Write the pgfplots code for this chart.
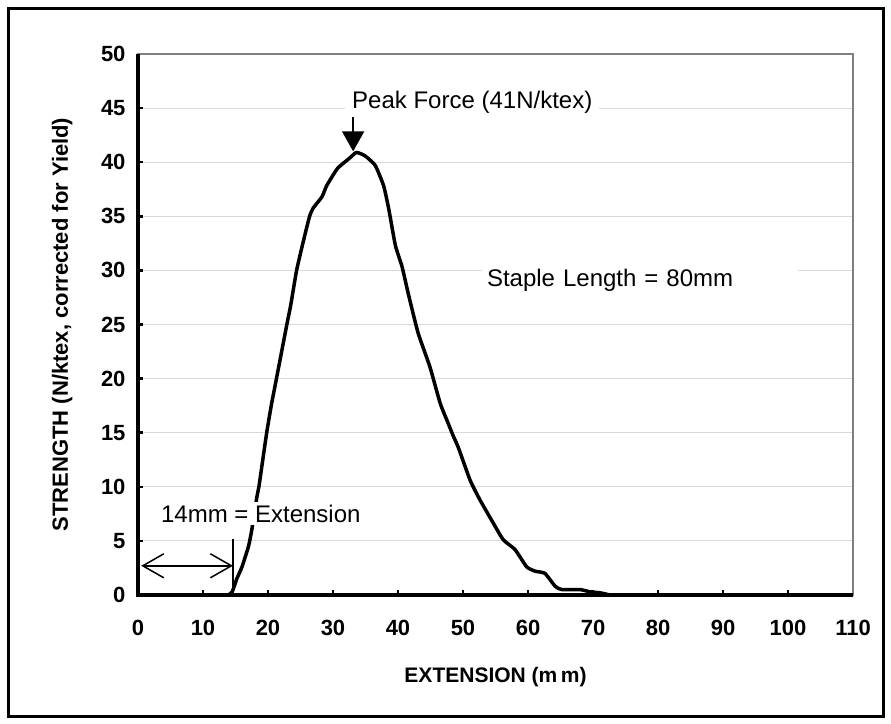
\documentclass[border=0pt]{standalone}
\usepackage{fontspec}
\setmainfont{Liberation Sans}
\usepackage{pgfplots}
\pgfplotsset{compat=1.18}
\usetikzlibrary{arrows.meta}

\pgfplotstableread{
x     y
13.9  0
14.5  0.3
15.2  1.5
16.0  2.6
17.0  4.5
17.5  6.0
18.3  9.1
18.6  10.0
19.2  12.5
19.8  15.0
20.5  17.5
21.3  20.0
22.1  22.5
22.9  25.0
23.5  26.8
24.4  30.0
25.4  32.6
26.4  35.0
27.0  35.8
28.3  36.8
29.0  37.8
30.0  38.8
30.8  39.5
32.6  40.4
33.6  40.9
34.9  40.6
36.5  39.7
37.8  37.8
38.6  35.6
39.6  32.3
40.6  30.4
41.6  27.8
43.1  24.2
44.9  21.1
46.5  17.7
47.7  15.9
48.5  14.7
49.3  13.6
51.1  10.6
52.6  8.8
54.7  6.6
56.2  5.1
58.0  4.2
59.8  2.6
61.1  2.2
62.6  2.0
64.2  0.8
65.2  0.5
68.0  0.5
69.5  0.3
71.1  0.2
72.6  0
}\strength

\begin{document}
\begin{tikzpicture}
\begin{axis}[
    scale only axis,
    width=715bp, height=541bp,
    xmin=0, xmax=110, ymin=0, ymax=50,
    xtick={0,10,...,110},
    ytick={0,5,...,50},
    tick pos=left,
    tick align=inside,
    major tick length=5bp,
    tick style={black, line width=2.5bp},
    axis line style={draw=gray, line width=1.5bp},
    ymajorgrids=true,
    major grid style={color=gray!30, line width=1bp},
    /pgf/number format/assume math mode=true,
    ticklabel style={font=\fontsize{22bp}{26bp}\selectfont\bfseries},
    xticklabel style={yshift=-22bp},
    yticklabel style={xshift=-9bp},
    xlabel={EXTENSION (m\,m)},
    ylabel={STRENGTH (N/ktex, corrected for Yield)},
    label style={font=\fontsize{21bp}{25bp}\selectfont\bfseries},
    xlabel style={at={(axis description cs:0.5,-0.152)}, anchor=center},
    ylabel style={at={(axis description cs:-0.106,0.5)}, anchor=center, font=\fontsize{22bp}{26bp}\selectfont\bfseries},
    clip=false,
]
\addplot[black, line width=3.5bp, line join=round, smooth, tension=0.3] table[x=x, y=y] {\strength};

% thick left and bottom axis lines
\draw[black, line width=4bp] (rel axis cs:0,1) -- (rel axis cs:0,0) -- (rel axis cs:1,0);

% annotations
\node[anchor=west, fill=white, inner xsep=7bp, inner ysep=3bp,
      font=\fontsize{24bp}{28bp}\selectfont] at (axis cs:31.85,45.5) {Peak Force (41N/ktex)};
\draw[black, line width=1.5bp, -{Triangle[width=22bp, length=20bp]}] (axis cs:33.1,44.2) -- (axis cs:33.1,41.0);

\node[anchor=west, fill=white, inner xsep=5bp, inner ysep=3bp, text width=306bp, align=left,
      font=\fontsize{24bp}{28bp}\selectfont] at (axis cs:52.9,29.1) {Staple Length = 80mm};

\node[anchor=west, fill=white, inner xsep=6bp, inner ysep=3bp,
      font=\fontsize{24bp}{28bp}\selectfont] at (axis cs:2.6,7.53) {14mm = Extension};

\draw[black, line width=1.5bp, {Straight Barb[length=21bp, width=24bp]}-{Straight Barb[length=21bp, width=24bp]}]
    (axis cs:0.5,2.7) -- (axis cs:14.6,2.7);
\draw[black, line width=1.5bp] (axis cs:14.6,0) -- (axis cs:14.6,5.2);
\end{axis}

% outer frame
\draw[black, line width=3bp] (-129.5bp,-121bp) rectangle (745bp,586.5bp);
\path[use as bounding box] (-138bp,-129bp) rectangle (753bp,595bp);
\end{tikzpicture}
\end{document}
